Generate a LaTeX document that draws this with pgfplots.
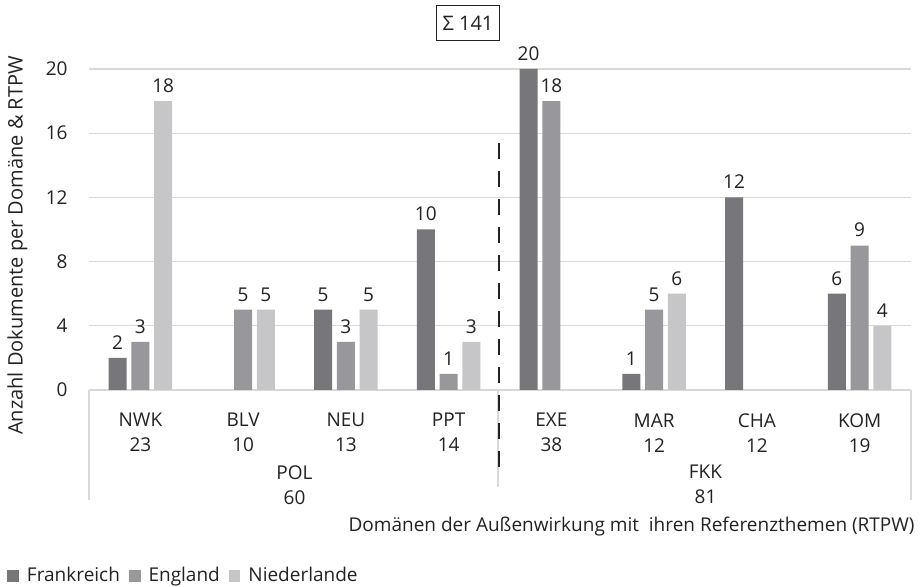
\documentclass[border=0pt]{standalone}
\usepackage{pgfplots}
\pgfplotsset{compat=1.18}
\usepackage{fontspec}
\setmainfont{Open Sans}
\newcommand\fs{\fontsize{9.5}{12.5}\selectfont}
\definecolor{cF}{HTML}{77777B}
\definecolor{cE}{HTML}{98989C}
\definecolor{cN}{HTML}{C6C6C8}
\definecolor{gridc}{HTML}{D9D9D9}
\definecolor{txt}{HTML}{222222}
\begin{document}
\begin{tikzpicture}
\begin{axis}[
  scale only axis, width=411pt, height=160.5pt,
  xmin=-0.5, xmax=7.5, ymin=0, ymax=20, enlargelimits=false,
  ybar=2.4pt, bar width=9pt,
  axis x line*=bottom, axis y line*=left,
  x axis line style={draw=gridc, line width=0.7pt, -},
  y axis line style={draw=none},
  major tick length=0pt,
  ytick={0,4,...,20},
  xtick={0,...,7},
  xticklabels={{NWK\\23},{BLV\\10},{NEU\\13},{PPT\\14},{EXE\\38},{MAR\\12},{CHA\\12},{KOM\\19}},
  xticklabel style={align=center, anchor=north, inner sep=0pt, yshift=-11.5pt, font=\fs, text=txt},
  yticklabel style={anchor=east, inner sep=0pt, xshift=-10.5pt, font=\fs, text=txt},
  /pgf/number format/assume math mode=true,
  ymajorgrids, grid style={draw=gridc, line width=0.6pt},
  xlabel={Domänen der Außenwirkung mit\ \ ihren Referenzthemen (RTPW)},
  ylabel={Anzahl Dokumente per Domäne \& RTPW},
  xlabel style={at={(axis description cs:1,0)}, anchor=east, xshift=2pt, yshift=-68.5pt, inner sep=0pt, font=\fs, text=txt},
  ylabel style={at={(axis description cs:-0.087,0.45)}, anchor=center, inner sep=0pt, font=\fontsize{10}{12}\selectfont, text=txt},
  nodes near coords,
  every node near coord/.append style={font=\fs, text=txt, anchor=south, inner sep=0pt, yshift=4pt},
  legend style={at={(axis description cs:0,0)}, anchor=west, xshift=-41pt, yshift=-93pt, draw=none, fill=none, inner sep=0pt, font=\fs, text=txt, /tikz/every odd column/.append style={column sep=2pt}, /tikz/every even column/.append style={column sep=2.5pt}},
  legend columns=-1,
  legend image code/.code={\fill[#1] (0pt,-2.9pt) rectangle (5.8pt,2.9pt);},
  clip=false,
]
\addplot[fill=cF, draw=none] coordinates {(0,2) (2,5) (3,10) (4,20) (5,1) (6,12) (7,6)};
\addplot[fill=cE, draw=none] coordinates {(0,3) (1,5) (2,3) (3,1) (4,18) (5,5) (7,9)};
\addplot[fill=cN, draw=none] coordinates {(0,18) (1,5) (2,5) (3,3) (5,6) (7,4)};
\legend{Frankreich,England,Niederlande}
\end{axis}
\draw[gridc, line width=0.7pt] (0,0) -- (0,-55pt);
\draw[gridc, line width=0.7pt] (204.5pt,0) -- (204.5pt,-48.5pt);
\draw[gridc, line width=0.7pt] (411pt,0) -- (411pt,-55pt);
\draw[txt, line width=1.4pt, dash pattern=on 8pt off 6pt] (205pt,123.5pt) -- (205pt,-41.5pt);
\node[anchor=north, inner sep=0pt, align=center, font=\fs, text=txt] at (102.75pt,-37.5pt) {POL\\60};
\node[anchor=north, inner sep=0pt, align=center, font=\fs, text=txt] at (308.25pt,-37.5pt) {FKK\\81};
\node[draw=txt, line width=0.6pt, minimum width=31.5pt, minimum height=17.5pt, inner sep=0pt, font=\fontsize{10}{12}\selectfont, text=txt] at (189.5pt,183.5pt) {Σ 141};
\pgfresetboundingbox
\useasboundingbox (-44.5pt,-98.5pt) rectangle (416.5pt,195pt);
\end{tikzpicture}
\end{document}
